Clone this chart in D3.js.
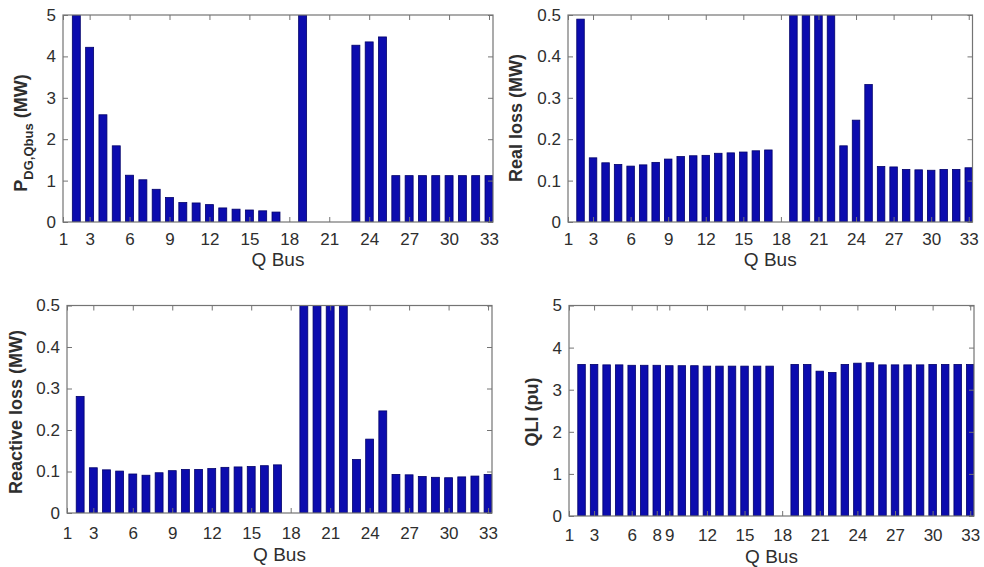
<!DOCTYPE html>
<html>
<head>
<meta charset="utf-8">
<script src="https://cdn.jsdelivr.net/npm/d3@7"></script>
<style>
  body { margin: 0; background: #fff; }
  svg { display: block; font-family: "Liberation Sans", Arial, sans-serif; }
</style>
</head>
<body>
<div id="chart"></div>
<script>
// bus numbers (categories)
const buses = [2, 3, 4, 5, 6, 7, 8, 9, 10, 11, 12, 13, 14, 15, 16, 17, 18,
               19, 20, 21, 22, 23, 24, 25, 26, 27, 28, 29, 30, 31, 32, 33];

// P_DG,Qbus (MW)
const pdg = [5.0, 4.22, 2.59, 1.84, 1.13, 1.02, 0.79, 0.59, 0.47, 0.46, 0.42, 0.34, 0.31, 0.29, 0.27, 0.24, 0,
             5.0, 0, 0, 0, 4.27, 4.35, 4.47, 1.12, 1.12, 1.12, 1.12, 1.12, 1.12, 1.12, 1.12];

// Real loss (MW)
const realLoss = [0.490, 0.155, 0.143, 0.139, 0.135, 0.138, 0.144, 0.152, 0.158, 0.160, 0.161, 0.166, 0.167, 0.169, 0.172, 0.174, 0,
                  0.5, 0.5, 0.5, 0.5, 0.184, 0.246, 0.332, 0.134, 0.133, 0.127, 0.126, 0.125, 0.127, 0.127, 0.131];

// Reactive loss (MW)
const reactiveLoss = [0.281, 0.109, 0.104, 0.101, 0.094, 0.091, 0.097, 0.102, 0.105, 0.105, 0.107, 0.110, 0.111, 0.112, 0.114, 0.116, 0,
                      0.5, 0.5, 0.5, 0.5, 0.129, 0.178, 0.246, 0.093, 0.092, 0.088, 0.086, 0.085, 0.087, 0.089, 0.093];

// QLI (pu)
const qli = [3.60, 3.60, 3.59, 3.59, 3.58, 3.58, 3.58, 3.57, 3.57, 3.57, 3.56, 3.56, 3.56, 3.56, 3.56, 3.56, 0,
             3.60, 3.60, 3.44, 3.41, 3.60, 3.63, 3.64, 3.59, 3.59, 3.59, 3.59, 3.60, 3.60, 3.60, 3.60];

const xTicks = [1, 3, 6, 9, 12, 15, 18, 21, 24, 27, 30, 33];
const xTicksQli = [1, 3, 6, 8, 9, 12, 15, 18, 21, 24, 27, 30, 33];
const yTicks5 = [0, 1, 2, 3, 4, 5];
const yTicksHalf = [0, 0.1, 0.2, 0.3, 0.4, 0.5];

const W = 984, H = 567;
const svg = d3.select("#chart").append("svg")
    .attr("width", W)
    .attr("height", H);

const panels = [
  { values: pdg, ymax: 5, yTicks: yTicks5, xTicks: xTicks, tickPad: 11,
    box: { l: 63, r: 493, t: 15, b: 222 }, ylab: "pdg", ylabX: 27, ylabY: 133, xlabY: 266 },
  { values: realLoss, ymax: 0.5, yTicks: yTicksHalf, xTicks: xTicks, tickPad: 11,
    box: { l: 568, r: 972.5, t: 15, b: 222 }, ylab: "Real loss (MW)", ylabX: 522, ylabY: 118, xlabY: 266 },
  { values: reactiveLoss, ymax: 0.5, yTicks: yTicksHalf, xTicks: xTicks, tickPad: 14,
    box: { l: 67, r: 492, t: 305.5, b: 513 }, ylab: "Reactive loss (MW)", ylabX: 22, ylabY: 412, xlabY: 561 },
  { values: qli, ymax: 5, yTicks: yTicks5, xTicks: xTicksQli, tickPad: 13,
    box: { l: 569, r: 974, t: 305.5, b: 516 }, ylab: "QLI (pu)", ylabX: 538, ylabY: 412, xlabY: 563 }
];

const axisColor = "#747474";
const textColor = "#2e2e2e";

panels.forEach((p, i) => {
  const b = p.box;
  const x = d3.scaleLinear().domain([1, 33.3]).range([b.l, b.r]);
  const y = d3.scaleLinear().domain([0, p.ymax]).range([b.b, b.t]);

  const g = svg.append("g");

  g.append("clipPath").attr("id", "clip" + i)
    .append("rect")
    .attr("x", b.l).attr("y", b.t)
    .attr("width", b.r - b.l).attr("height", b.b - b.t);

  // bars
  g.append("g")
    .attr("clip-path", `url(#clip${i})`)
    .selectAll("rect")
    .data(buses.map((bus, k) => ({ bus: bus, v: p.values[k] })))
    .join("rect")
    .attr("x", d => x(d.bus - 0.3))
    .attr("width", d => x(d.bus + 0.3) - x(d.bus - 0.3))
    .attr("y", d => y(Math.min(d.v, p.ymax * 1.02)))
    .attr("height", d => y(0) - y(Math.min(d.v, p.ymax * 1.02)))
    .attr("fill", "#0c0cae")
    .attr("stroke", "#00006a")
    .attr("stroke-width", 0.8);

  const fmt = d3.format("~g");

  // bottom axis, ticks pointing inward
  const xb = g.append("g")
    .attr("transform", `translate(0,${b.b})`)
    .call(d3.axisBottom(x).tickValues(p.xTicks).tickSize(-5).tickPadding(p.tickPad).tickFormat(fmt));
  // top axis, ticks only
  const xt = g.append("g")
    .attr("transform", `translate(0,${b.t})`)
    .call(d3.axisTop(x).tickValues(p.xTicks).tickSize(-5).tickFormat(""));
  // left axis
  const yl = g.append("g")
    .attr("transform", `translate(${b.l},0)`)
    .call(d3.axisLeft(y).tickValues(p.yTicks).tickSize(-5).tickPadding(7).tickFormat(fmt));
  // right axis, ticks only
  const yr = g.append("g")
    .attr("transform", `translate(${b.r},0)`)
    .call(d3.axisRight(y).tickValues(p.yTicks).tickSize(-5).tickFormat(""));

  [xb, xt, yl, yr].forEach(a => {
    a.select(".domain").remove();
    a.selectAll(".tick line").attr("stroke", axisColor).attr("stroke-width", 1);
    a.selectAll(".tick text")
      .attr("fill", textColor)
      .style("font-size", "17px")
      .style("font-family", '"Liberation Sans", Arial, sans-serif');
  });

  // box
  g.append("rect")
    .attr("x", b.l).attr("y", b.t)
    .attr("width", b.r - b.l).attr("height", b.b - b.t)
    .attr("fill", "none")
    .attr("stroke", axisColor)
    .attr("stroke-width", 1.2);

  // x label
  g.append("text")
    .attr("x", (b.l + b.r) / 2)
    .attr("y", p.xlabY)
    .attr("text-anchor", "middle")
    .attr("fill", textColor)
    .style("font-size", "19px")
    .text("Q Bus");

  // y label
  const yt = g.append("text")
    .attr("transform", `translate(${p.ylabX},${p.ylabY}) rotate(-90)`)
    .attr("text-anchor", "middle")
    .attr("fill", textColor)
    .style("font-size", "18px")
    .style("font-weight", "bold");
  if (p.ylab === "pdg") {
    yt.append("tspan").text("P");
    yt.append("tspan").attr("dy", 6).style("font-size", "13px").text("DG,Qbus");
    yt.append("tspan").attr("dy", -6).text(" (MW)");
  } else {
    yt.text(p.ylab);
  }
});
</script>
</body>
</html>
